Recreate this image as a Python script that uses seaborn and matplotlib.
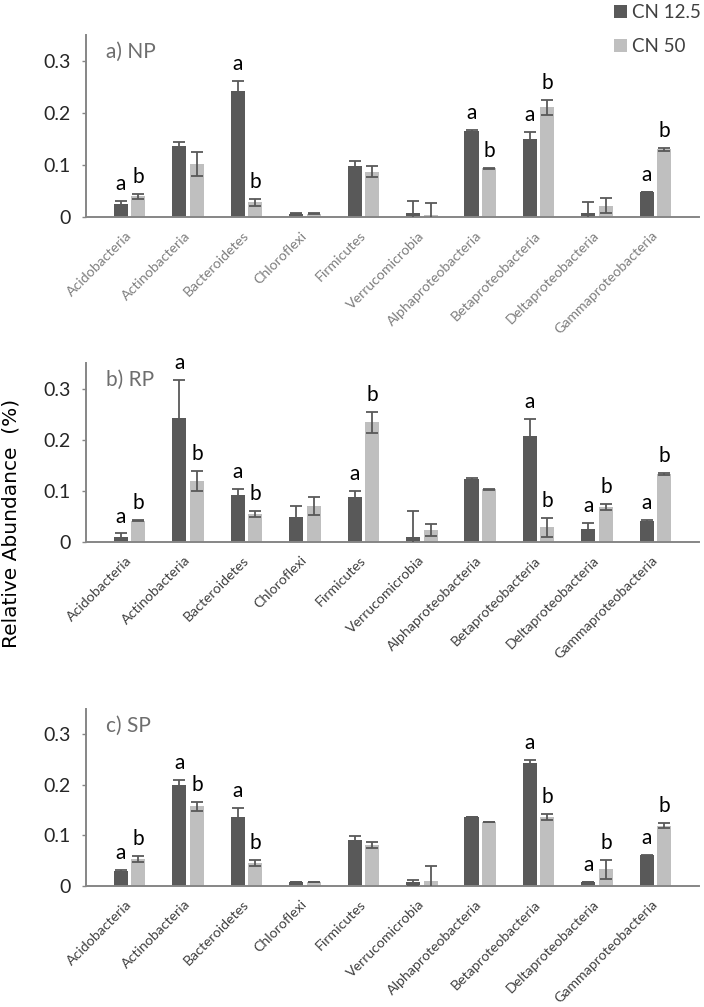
import numpy as np
import pandas as pd
import matplotlib
matplotlib.use("Agg")
import matplotlib.pyplot as plt
import seaborn as sns

phyla = ['Acidobacteria', 'Actinobacteria', 'Bacteroidetes', 'Chloroflexi', 'Firmicutes',
         'Verrucomicrobia', 'Alphaproteobacteria', 'Betaproteobacteria',
         'Deltaproteobacteria', 'Gammaproteobacteria']
treatments = ['CN 12.5', 'CN 50']

# a) NP
np_dark = [0.025, 0.137, 0.242, 0.006, 0.099, 0.008, 0.165, 0.150, 0.008, 0.048]
np_light = [0.040, 0.102, 0.028, 0.006, 0.087, 0.004, 0.094, 0.211, 0.022, 0.130]
np_dark_err = [0.005, 0.008, 0.019, 0.001, 0.008, 0.022, 0.002, 0.014, 0.020, 0.0005]
np_light_err = [0.005, 0.023, 0.007, 0.001, 0.011, 0.023, 0.001, 0.014, 0.014, 0.003]
np_let_dark = ['a', '', 'a', '', '', '', 'a', 'a', '', 'a']
np_let_light = ['b', '', 'b', '', '', '', 'b', 'b', '', 'b']

# b) RP
rp_dark = [0.010, 0.243, 0.092, 0.049, 0.088, 0.010, 0.123, 0.207, 0.025, 0.041]
rp_light = [0.041, 0.119, 0.055, 0.070, 0.234, 0.023, 0.103, 0.028, 0.068, 0.132]
rp_dark_err = [0.006, 0.073, 0.012, 0.021, 0.012, 0.051, 0.002, 0.033, 0.011, 0.002]
rp_light_err = [0.001, 0.020, 0.006, 0.018, 0.021, 0.011, 0.001, 0.018, 0.005, 0.002]
rp_let_dark = ['a', 'a', 'a', '', 'a', '', '', 'a', 'a', 'a']
rp_let_light = ['b', 'b', 'b', '', 'b', '', '', 'b', 'b', 'b']

# c) SP
sp_dark = [0.029, 0.200, 0.136, 0.007, 0.090, 0.007, 0.136, 0.243, 0.007, 0.060]
sp_light = [0.053, 0.157, 0.044, 0.007, 0.081, 0.010, 0.127, 0.136, 0.032, 0.119]
sp_dark_err = [0.002, 0.009, 0.018, 0.0005, 0.009, 0.005, 0.0, 0.005, 0.0, 0.001]
sp_light_err = [0.006, 0.009, 0.006, 0.0005, 0.006, 0.029, 0.0, 0.006, 0.018, 0.005]
sp_let_dark = ['a', 'a', 'a', '', '', '', '', 'a', 'a', 'a']
sp_let_light = ['b', 'b', 'b', '', '', '', '', 'b', 'b', 'b']

panels = [
    ('a) NP', np_dark, np_light, np_dark_err, np_light_err, np_let_dark, np_let_light, '#7f7f7f'),
    ('b) RP', rp_dark, rp_light, rp_dark_err, rp_light_err, rp_let_dark, rp_let_light, '#404040'),
    ('c) SP', sp_dark, sp_light, sp_dark_err, sp_light_err, sp_let_dark, sp_let_light, '#404040'),
]

DARK = '#595959'
LIGHT = '#bfbfbf'
AXIS = '#868686'

sns.set_style('white')
plt.rcParams['font.family'] = ['Lato', 'DejaVu Sans']

fig = plt.figure(figsize=(7.04, 10.07), dpi=100)
positions = [[0.1222, 0.7845, 0.871, 0.1807],
             [0.1222, 0.4621, 0.871, 0.1774],
             [0.1222, 0.1205, 0.871, 0.1755]]

for i, (title, dark, light, derr, lerr, ldark, llight, lab_col) in enumerate(panels):
    ax = fig.add_axes(positions[i])
    df = pd.DataFrame({
        'Phylum': phyla * 2,
        'CN': [treatments[0]] * 10 + [treatments[1]] * 10,
        'Abundance': dark + light,
    })
    sns.barplot(data=df, x='Phylum', y='Abundance', hue='CN', order=phyla,
                hue_order=treatments, palette=[DARK, LIGHT], width=0.6, gap=0.2,
                errorbar=None, saturation=1, linewidth=0, ax=ax, legend=(i == 0))

    for cont, vals, errs, lets in zip(ax.containers, [dark, light], [derr, lerr], [ldark, llight]):
        xs = [p.get_x() + p.get_width() / 2 for p in cont.patches]
        ax.errorbar(xs, vals, yerr=errs, fmt='none', ecolor=DARK, elinewidth=1.3,
                    capsize=4, capthick=1.3, zorder=3)
        for x, v, e, t in zip(xs, vals, errs, lets):
            if t:
                ax.annotate(t, (x, v + e), xytext=(0, 5), textcoords='offset points',
                            ha='center', va='bottom', fontsize=15, color='black')

    ax.set_ylim(0, 0.35)
    ax.set_yticks([0, 0.1, 0.2, 0.3])
    ax.set_yticklabels(['0', '0.1', '0.2', '0.3'])
    ax.set_xlabel('')
    ax.set_ylabel('')
    for s in ['top', 'right']:
        ax.spines[s].set_visible(False)
    for s in ['left', 'bottom']:
        ax.spines[s].set_color(AXIS)
        ax.spines[s].set_linewidth(1.4)
    ax.tick_params(axis='y', length=3, width=1, color=AXIS, direction='out',
                   labelsize=14, pad=8, left=True)
    ax.tick_params(axis='x', length=0, pad=12, labelsize=10.2, labelcolor=lab_col)
    plt.setp(ax.get_xticklabels(), rotation=45, ha='right', va='center',
             rotation_mode='anchor')
    ax.text(0.033, 0.905, title, transform=ax.transAxes, fontsize=15,
            color='#6e6e6e', ha='left', va='center')

    if i == 0:
        handles, labels = ax.get_legend_handles_labels()
        ax.get_legend().remove()
        fig.legend(handles, labels, loc='upper left', bbox_to_anchor=(0.853, 1.009),
                   frameon=False, fontsize=13.5, handlelength=0.7, handleheight=0.7,
                   handletextpad=0.3, labelspacing=0.9, borderpad=0.2,
                   labelcolor='#404040')

fig.text(0.016, 0.48, 'Relative Abundance  (%)', rotation=90, ha='center', va='center',
         fontsize=14.5, family=['DejaVu Sans'], color='black')

fig.savefig('out.png', dpi=100)
